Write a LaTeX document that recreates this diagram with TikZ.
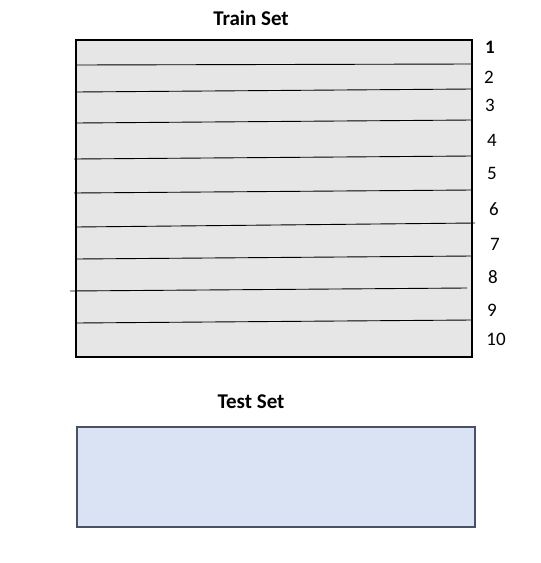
\documentclass[tikz,border=0pt]{standalone}
\usepackage{fontspec}
\setmainfont{Carlito}
\begin{document}
\begin{tikzpicture}[x=1pt,y=-1pt,
  title/.style={font=\fontsize{21}{23}\selectfont\bfseries, anchor=center},
  num/.style={font=\fontsize{19}{21}\selectfont, anchor=center},
  sep/.style={draw=black, line width=0.9pt},
  trainbox/.style={draw=black, line width=1.6pt, fill=trainfill},
  testbox/.style={draw=testdraw, line width=1.6pt, fill=testfill}]
\definecolor{trainfill}{HTML}{E7E6E6}
\definecolor{testfill}{HTML}{DAE3F3}
\definecolor{testdraw}{HTML}{4A5066}
\useasboundingbox (0,0) rectangle (541,563);
\node[title] (traintitle) at (251,18) {Train Set};
\draw[trainbox] (76,40) rectangle (472,357);
% separators
\coordinate (l1a) at (76,65);  \coordinate (l1b) at (472,64);
\coordinate (l2a) at (76,92);  \coordinate (l2b) at (472,89);
\coordinate (l3a) at (76,123); \coordinate (l3b) at (472,120);
\coordinate (l4a) at (74,159); \coordinate (l4b) at (472,156);
\coordinate (l5a) at (74,193); \coordinate (l5b) at (472,190);
\coordinate (l6a) at (76,227); \coordinate (l6b) at (475,223);
\coordinate (l7a) at (76,259); \coordinate (l7b) at (472,256);
\coordinate (l8a) at (70,291); \coordinate (l8b) at (467,288);
\coordinate (l9a) at (76,323); \coordinate (l9b) at (472,320);
\foreach \i in {1,...,9} { \draw[sep] (l\i a) -- (l\i b); }
\node[num,font=\fontsize{19}{21}\selectfont\bfseries] (n1) at (490,47) {1};
\node[num] (n2) at (489,77) {2};
\node[num] (n3) at (490,105) {3};
\node[num] (n4) at (492,140) {4};
\node[num] (n5) at (492,173) {5};
\node[num] (n6) at (494,209) {6};
\node[num] (n7) at (495,244) {7};
\node[num] (n8) at (493,277) {8};
\node[num] (n9) at (492,310) {9};
\node[num] (n10) at (496,339) {10};
\node[title] (testtitle) at (251,402) {Test Set};
\draw[testbox] (77,427) rectangle (475,527);
\end{tikzpicture}
\end{document}
